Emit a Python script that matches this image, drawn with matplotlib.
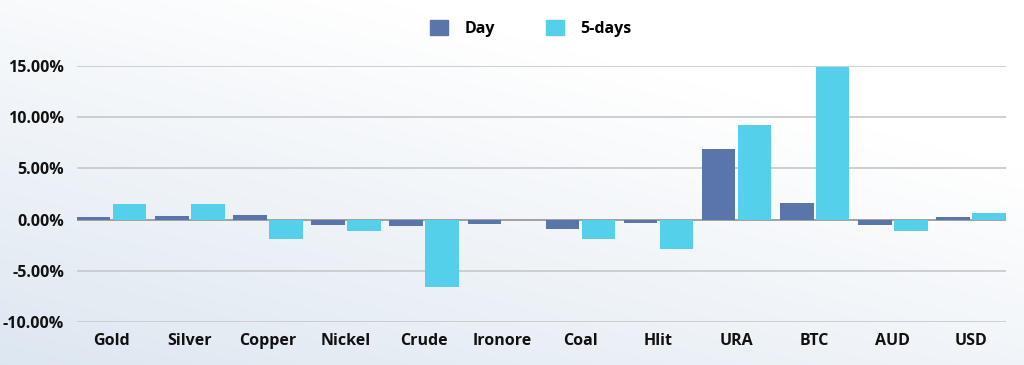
import numpy as np
import matplotlib
matplotlib.use("Agg")
import matplotlib.pyplot as plt
from matplotlib.ticker import FuncFormatter
from matplotlib.patches import Patch

categories = ["Gold", "Silver", "Copper", "Nickel", "Crude", "Ironore",
              "Coal", "Hlit", "URA", "BTC", "AUD", "USD"]
day = [0.30, 0.35, 0.45, -0.50, -0.60, -0.40, -0.95, -0.30, 6.90, 1.65, -0.50, 0.25]
five_days = [1.50, 1.50, -1.85, -1.10, -6.60, 0.00, -1.90, -2.90, 9.25, 14.90, -1.10, 0.60]
series_names = ["Day", "5-days"]
yticks = [-10, -5, 0, 5, 10, 15]

c_day = "#5a75aa"
c_5d = "#54d0ea"

plt.rcParams['font.family'] = ['Open Sans', 'DejaVu Sans']

fig = plt.figure(figsize=(10.24, 3.65), dpi=100)

# background gradient
bg = fig.add_axes([0, 0, 1, 1], zorder=0)
h, w = 200, 560
yy, xx = np.mgrid[0:h, 0:w]
t = np.clip(0.75 * (yy / h) + 0.55 * (1 - xx / w) - 0.35, 0, 1)
top_col = np.array([1.0, 1.0, 1.0])
bot_col = np.array([0.86, 0.90, 0.94])
img = top_col[None, None, :] * (1 - t[..., None]) + bot_col[None, None, :] * t[..., None]
bg.imshow(img, aspect='auto', extent=[0, 1, 0, 1], origin='upper')
bg.set_axis_off()

ax = fig.add_axes([76.7 / 1024, 0.118, (1006 - 76.7) / 1024, 0.701], zorder=1)
ax.patch.set_alpha(0)
x = np.arange(len(categories))
bw = 0.429
off = 0.23
ax.bar(x - off, day, width=bw, color=c_day, zorder=3, label=series_names[0])
ax.bar(x + off, five_days, width=bw, color=c_5d, zorder=3, label=series_names[1])

ax.set_xlim(-0.448, len(categories) - 1 + 0.448)
ax.set_ylim(-10, 15)
ax.set_yticks(yticks)
ax.yaxis.set_major_formatter(FuncFormatter(lambda v, p: f"{v:.2f}%"))
for yv in yticks:
    ax.axhline(yv, color="#9a9a9a" if yv == 0 else "#c9cbce", lw=1.3, zorder=1)
for s in ax.spines.values():
    s.set_visible(False)
ax.tick_params(axis='both', length=0, labelsize=11.5, colors="#111111")
ax.tick_params(axis='y', pad=9)
ax.tick_params(axis='x', pad=8)
ax.set_xticks(x)
ax.set_xticklabels(categories, fontweight='bold')
for lab in ax.get_yticklabels():
    lab.set_fontweight('bold')

handles = [Patch(color=c_day, label=series_names[0]), Patch(color=c_5d, label=series_names[1])]
fig.legend(handles=handles, loc='center', bbox_to_anchor=(0.5185, 0.922), ncol=2,
           frameon=False, handlelength=1.1, handleheight=1.1, columnspacing=3.2,
           handletextpad=1.05, prop={'weight': 'bold', 'size': 11.5})

fig.savefig("out.png", dpi=100)
